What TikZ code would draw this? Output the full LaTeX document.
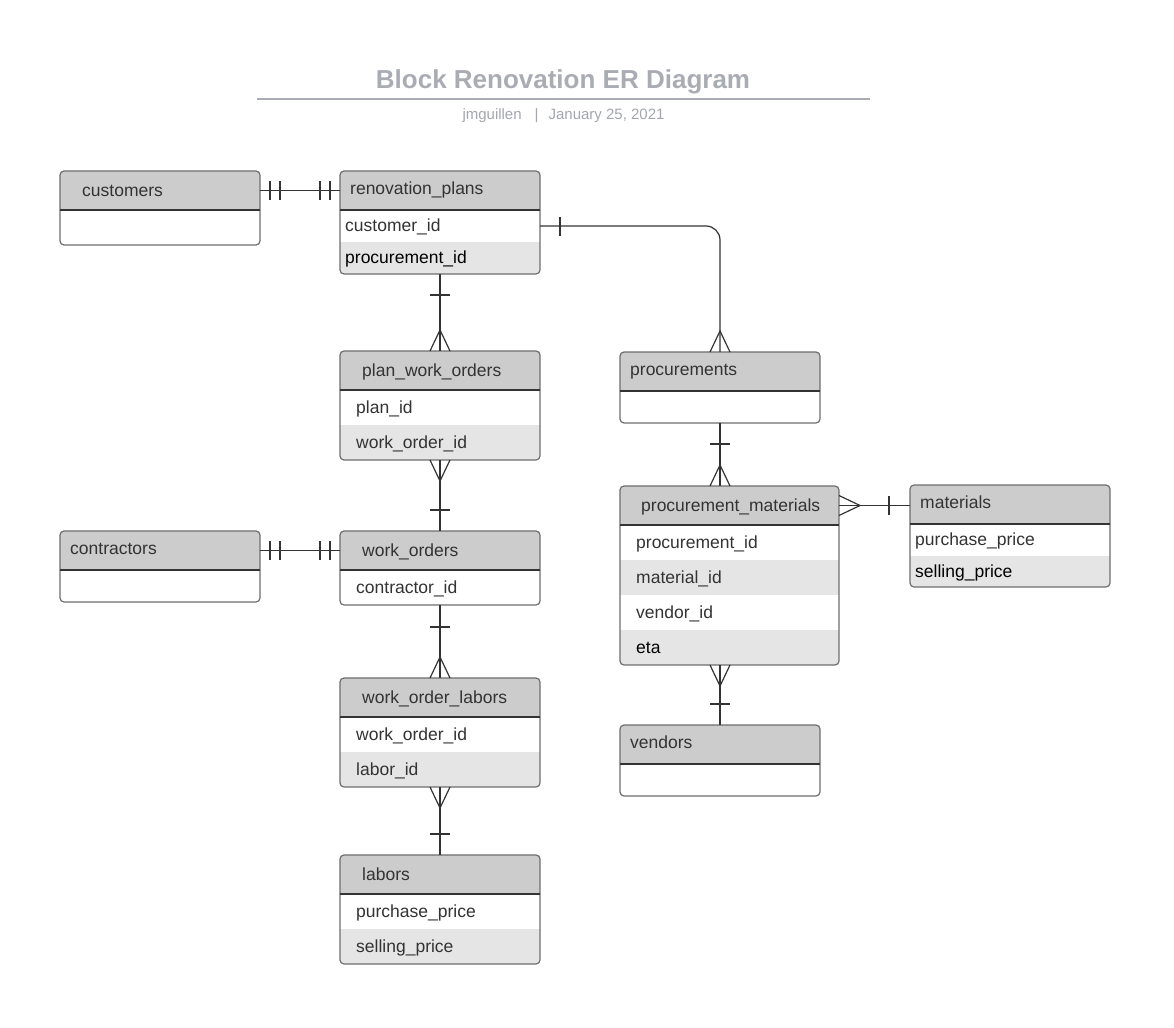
\documentclass[tikz,border=0pt]{standalone}
\usepackage{fontspec}
\setmainfont{Liberation Sans}
\usetikzlibrary{calc,backgrounds}
\pgfdeclarelayer{canvas}
\pgfsetlayers{canvas,background,main}
\definecolor{hdrgray}{HTML}{CCCCCC}
\definecolor{altgray}{HTML}{E5E5E5}
\definecolor{bordergray}{HTML}{6E6E6E}
\definecolor{txt}{HTML}{333333}
\definecolor{connc}{HTML}{333333}
\definecolor{titlegray}{HTML}{A9ADB3}
\definecolor{subgray}{HTML}{A3A7AD}
\tikzset{
  tbl/.style={rectangle, draw=bordergray, line width=1.2pt, rounded corners=4pt,
    inner sep=0pt, outer sep=0pt, anchor=north west},
  band/.style={rectangle, inner sep=0pt, outer sep=0pt, anchor=north west, minimum width=#1},
  band/.default=200,
  divline/.style={draw=connc, line width=1.2pt},
  lbl/.style={anchor=west, inner sep=0pt, text=txt, text height=12.5pt, text depth=0.6pt,
    font=\fontsize{17.5}{20}\selectfont},
  conn/.style={draw=connc, line width=1.2pt},
}
\newcommand{\ertable}[5]{%
  \node[tbl, minimum width=#4, minimum height=#5] (#1) at (#2,#3) {};
  \node[band=#4, minimum height=39] (#1-h) at (#2,#3) {};
  \begin{pgfonlayer}{background}
    \begin{scope}
      \clip[rounded corners=4pt] (#1.north west) rectangle (#1.south east);
      \fill[hdrgray] (#1-h.north west) rectangle (#1-h.south east);
    \end{scope}
  \end{pgfonlayer}
  \draw[divline] (#1-h.south west) -- (#1-h.south east);
}
\newcommand{\errow}[7]{%
  \node[band=#5, minimum height=#6] (#2) at (#3,#4) {};
  \begin{pgfonlayer}{background}
    \begin{scope}
      \clip[rounded corners=4pt] (#1.north west) rectangle (#1.south east);
      \fill[#7] (#2.north west) rectangle (#2.south east);
    \end{scope}
  \end{pgfonlayer}
}
% crow's foot on a vertical connector: point, apex offset
\newcommand{\erCrowV}[2]{\draw[conn] ($(#1)+(-10,0)$) -- ($(#1)+(0,#2)$) -- ($(#1)+(10,0)$);}
% crow's foot on a horizontal connector
\newcommand{\erCrowH}[2]{\draw[conn] ($(#1)+(0,-10)$) -- ($(#1)+(#2,0)$) -- ($(#1)+(0,10)$);}
% bar across a vertical connector
\newcommand{\erBarV}[2]{\draw[conn] ($(#1)+(-10,#2)$) -- ($(#1)+(10,#2)$);}
% bar across a horizontal connector
\newcommand{\erBarH}[2]{\draw[conn] ($(#1)+(#2,-9.5)$) -- ($(#1)+(#2,9.5)$);}

\begin{document}
\begin{tikzpicture}[x=1pt,y=-1pt]
\useasboundingbox (0,0) rectangle (1174,1027);
\begin{pgfonlayer}{canvas}
\fill[white] (0,0) rectangle (1174,1027);
\end{pgfonlayer}

% title
\node[font=\bfseries\fontsize{26}{30}\selectfont, text=titlegray, inner sep=0pt] (title) at (563,82) {Block Renovation ER Diagram};
\coordinate (ruleL) at (257,99);
\coordinate (ruleR) at (870,99);
\draw[titlegray, line width=2pt] (ruleL) -- (ruleR);
\node[font=\fontsize{15}{18}\selectfont, text=subgray, inner sep=0pt] (subtitle) at (563.5,115.5) {jmguillen\hspace{13pt}|\hspace{10pt}January 25, 2021};

% customers
\ertable{cu}{60}{171}{200}{74}
\node[lbl] (cu-t) at ($(cu-h.west)+(22,0)$) {customers};

% renovation_plans
\ertable{rp}{340}{171}{200}{103}
\node[lbl] (rp-t) at ($(rp-h.west)+(10,-1.5)$) {renovation\_plans};
\errow{rp}{rp-1}{340}{210}{200}{32}{white}
\errow{rp}{rp-2}{340}{242}{200}{32}{altgray}
\node[lbl] (rp-1t) at ($(rp-1.west)+(5,0)$) {customer\_id};
\node[lbl, text=black] (rp-2t) at ($(rp-2.west)+(5,0)$) {procurement\_id};

% plan_work_orders
\ertable{pwo}{340}{351}{200}{109}
\node[lbl] (pwo-t) at ($(pwo-h.west)+(22,0)$) {plan\_work\_orders};
\errow{pwo}{pwo-1}{340}{390}{200}{35}{white}
\errow{pwo}{pwo-2}{340}{425}{200}{35}{altgray}
\node[lbl] (pwo-1t) at ($(pwo-1.west)+(16,0)$) {plan\_id};
\node[lbl] (pwo-2t) at ($(pwo-2.west)+(16,0)$) {work\_order\_id};

% procurements
\ertable{pr}{620}{352}{200}{71}
\node[lbl] (pr-t) at ($(pr-h.west)+(10,-1.5)$) {procurements};

% contractors
\ertable{co}{60}{531}{200}{71}
\node[lbl] (co-t) at ($(co-h.west)+(10,-1.5)$) {contractors};

% work_orders
\ertable{wo}{340}{531}{200}{74}
\node[lbl] (wo-t) at ($(wo-h.west)+(22,0)$) {work\_orders};
\errow{wo}{wo-1}{340}{570}{200}{35}{white}
\node[lbl] (wo-1t) at ($(wo-1.west)+(16,0)$) {contractor\_id};

% work_order_labors
\ertable{wol}{340}{678}{200}{109}
\node[lbl] (wol-t) at ($(wol-h.west)+(22,0)$) {work\_order\_labors};
\errow{wol}{wol-1}{340}{717}{200}{35}{white}
\errow{wol}{wol-2}{340}{752}{200}{35}{altgray}
\node[lbl] (wol-1t) at ($(wol-1.west)+(16,0)$) {work\_order\_id};
\node[lbl] (wol-2t) at ($(wol-2.west)+(16,0)$) {labor\_id};

% labors
\ertable{la}{340}{855}{200}{109}
\node[lbl] (la-t) at ($(la-h.west)+(22,0)$) {labors};
\errow{la}{la-1}{340}{894}{200}{35}{white}
\errow{la}{la-2}{340}{929}{200}{35}{altgray}
\node[lbl] (la-1t) at ($(la-1.west)+(16,0)$) {purchase\_price};
\node[lbl] (la-2t) at ($(la-2.west)+(16,0)$) {selling\_price};

% procurement_materials
\ertable{pm}{620}{486}{219}{179}
\node[lbl] (pm-t) at ($(pm-h.west)+(21,0)$) {procurement\_materials};
\errow{pm}{pm-1}{620}{525}{219}{35}{white}
\errow{pm}{pm-2}{620}{560}{219}{35}{altgray}
\errow{pm}{pm-3}{620}{595}{219}{35}{white}
\errow{pm}{pm-4}{620}{630}{219}{35}{altgray}
\node[lbl] (pm-1t) at ($(pm-1.west)+(16,0)$) {procurement\_id};
\node[lbl] (pm-2t) at ($(pm-2.west)+(16,0)$) {material\_id};
\node[lbl] (pm-3t) at ($(pm-3.west)+(16,0)$) {vendor\_id};
\node[lbl, text=black] (pm-4t) at ($(pm-4.west)+(16,0)$) {eta};

% materials
\ertable{ma}{910}{485}{200}{102}
\node[lbl] (ma-t) at ($(ma-h.west)+(10,-1.5)$) {materials};
\errow{ma}{ma-1}{910}{524}{200}{32}{white}
\errow{ma}{ma-2}{910}{556}{200}{31}{altgray}
\node[lbl] (ma-1t) at ($(ma-1.west)+(5,0)$) {purchase\_price};
\node[lbl, text=black] (ma-2t) at ($(ma-2.west)+(5,0)$) {selling\_price};

% vendors
\ertable{ve}{620}{725}{200}{71}
\node[lbl] (ve-t) at ($(ve-h.west)+(10,-1.5)$) {vendors};

% ---- connectors ----
% customers -- renovation_plans (one and only one, both ends)
\draw[conn] (cu-h.east) -- (rp-h.west);
\erBarH{cu-h.east}{10}
\erBarH{cu-h.east}{20}
\erBarH{rp-h.west}{-10}
\erBarH{rp-h.west}{-20}

% renovation_plans -- procurements
\draw[conn, rounded corners=14pt] (rp-1.east) -| (pr.north);
\erBarH{rp-1.east}{20}
\erCrowV{pr.north}{-21}

% renovation_plans -- plan_work_orders
\draw[conn] (rp.south) -- (pwo.north);
\erBarV{rp.south}{21}
\erCrowV{pwo.north}{-21}

% plan_work_orders -- work_orders
\draw[conn] (pwo.south) -- (wo.north);
\erCrowV{pwo.south}{21}
\erBarV{wo.north}{-21}

% contractors -- work_orders
\draw[conn] (co-h.east) -- (wo-h.west);
\erBarH{co-h.east}{10}
\erBarH{co-h.east}{20}
\erBarH{wo-h.west}{-10}
\erBarH{wo-h.west}{-20}

% work_orders -- work_order_labors
\draw[conn] (wo.south) -- (wol.north);
\erBarV{wo.south}{22}
\erCrowV{wol.north}{-21}

% work_order_labors -- labors
\draw[conn] (wol.south) -- (la.north);
\erCrowV{wol.south}{21}
\erBarV{la.north}{-21}

% procurements -- procurement_materials
\coordinate (prpm) at (pr.south |- pm.north);
\draw[conn] (pr.south) -- (prpm);
\erBarV{pr.south}{21}
\erCrowV{prpm}{-21}

% procurement_materials -- materials
\coordinate (pmma) at (pm-h.east -| ma.west);
\draw[conn] (pm-h.east) -- (pmma);
\erCrowH{pm-h.east}{21}
\erBarH{pmma}{-21}

% procurement_materials -- vendors
\coordinate (pmve) at (ve.north |- pm.south);
\draw[conn] (pmve) -- (ve.north);
\erCrowV{pmve}{21}
\erBarV{ve.north}{-21}
\end{tikzpicture}
\end{document}
